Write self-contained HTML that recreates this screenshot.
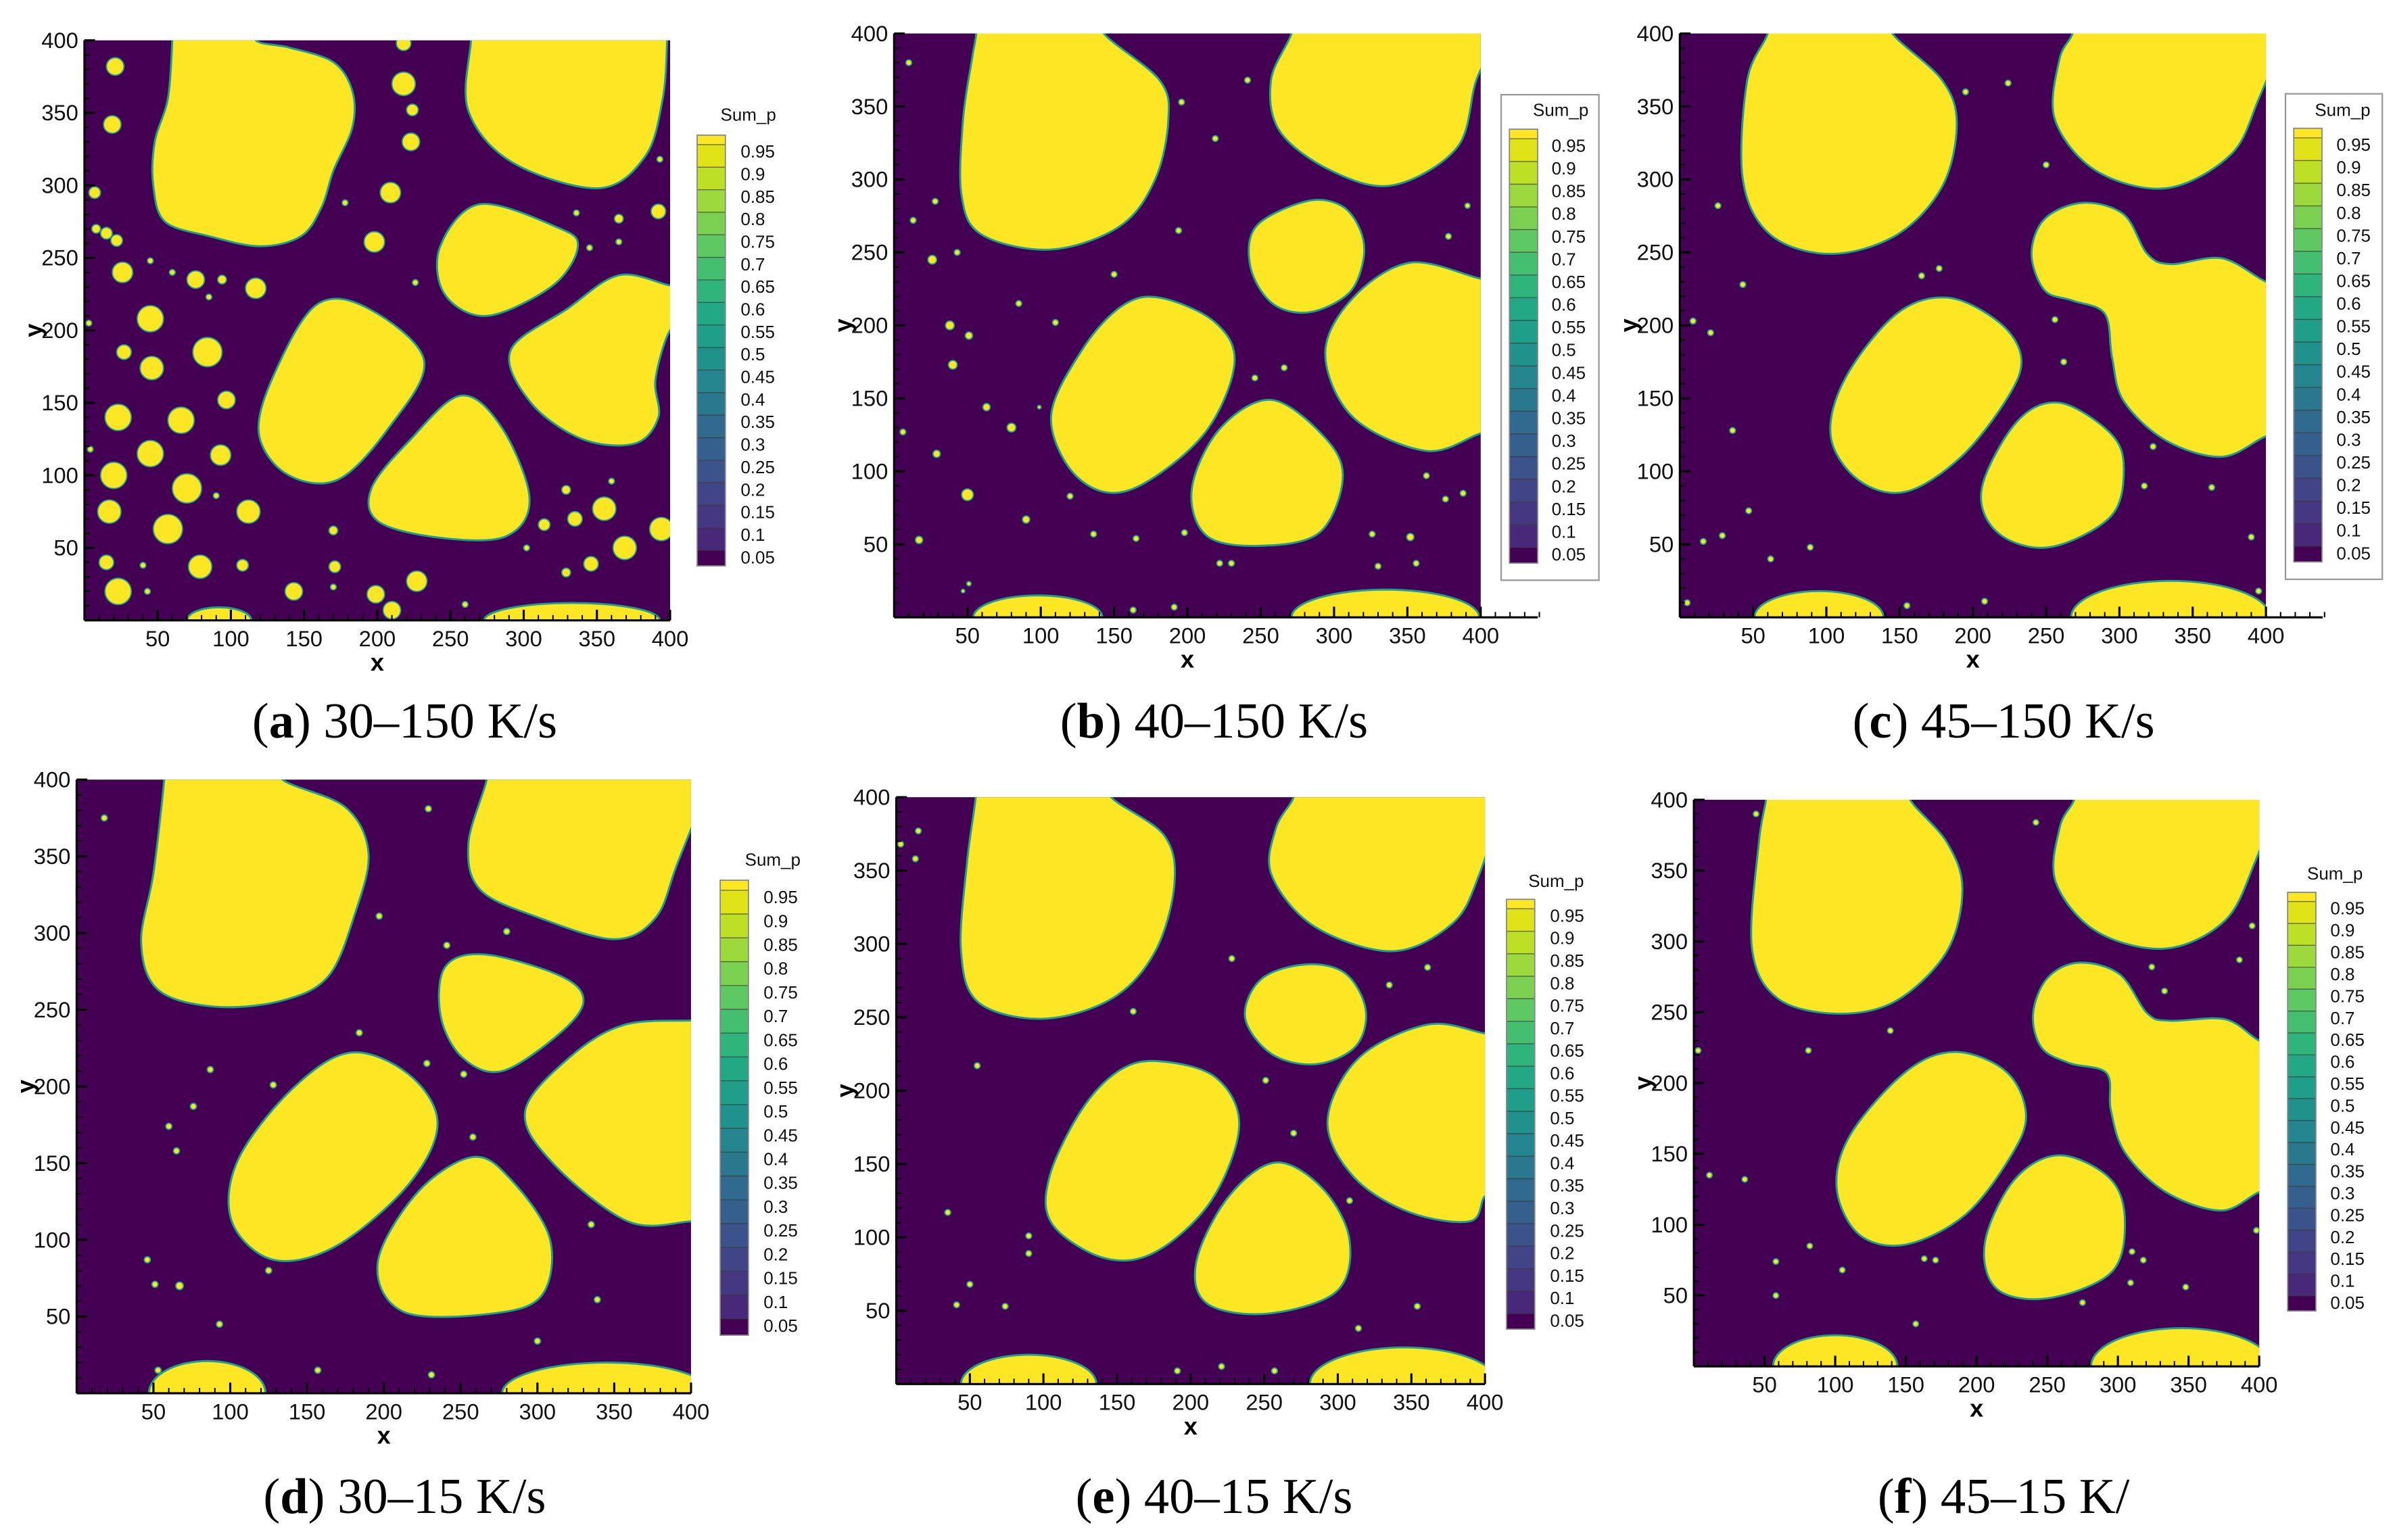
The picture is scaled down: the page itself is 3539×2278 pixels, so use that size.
<!DOCTYPE html>
<html><head><meta charset="utf-8"><style>
html,body{margin:0;padding:0;background:#fff;}
svg{display:block;}
</style></head><body>
<svg id="fig" xmlns="http://www.w3.org/2000/svg" width="3539" height="2278" viewBox="0 0 1567 1008.6" font-family="Liberation Sans, Arial, sans-serif"></svg>
<script>
// ---- data (domain units 0..400) ----
const tickValues = [50,100,150,200,250,300,350,400];
const levelLabels = ["0.95","0.9","0.85","0.8","0.75","0.7","0.65","0.6","0.55","0.5","0.45","0.4","0.35","0.3","0.25","0.2","0.15","0.1","0.05"];
const bandColors = ["#fde725","#dfe318","#bddf26","#9bd93c","#7ad151","#5ec962","#44bf70","#2fb47c","#22a884","#1f9e89","#21918c","#25858e","#2a788e","#306a8e","#355f8d","#3b528b","#414487","#453781","#482878","#440154"];
const captions = ["30–150 K/s","40–150 K/s","45–150 K/s","30–15 K/s","40–15 K/s","45–15 K/"];
const letters = ["a","b","c","d","e","f"];

const blobsA = [
 [[60,415],[117,415],[140,395],[170,385],[183,365],[183,340],[170,310],[162,285],[148,265],[120,258],[85,265],[55,275],[47,300],[48,330],[57,360]],
 [[264,415],[398,415],[395,360],[383,320],[351,298],[292,316],[262,352]],
 [[243,258],[270,287],[323,271],[337,258],[320,231],[275,210],[246,225]],
 [[412,231],[365,238],[330,215],[291,186],[305,150],[340,125],[376,122],[392,140],[390,166],[412,200]],
 [[159,218],[194,215],[232,179],[208,133],[173,97],[138,101],[119,130],[131,173]],
 [[257,155],[285,133],[304,84],[288,58],[243,57],[201,68],[196,91],[222,124]]
];
const dropsA = [[21,382,6],[19,342,6],[7,295,4],[8,270,3],[15,267,4],[22,262,4],[26,240,7],[45,248,2],[60,240,2],[76,235,6],[85,223,2],[94,235,3],[117,229,7],[45,208,9],[84,185,10],[27,185,5],[46,174,8],[97,152,6],[23,140,9],[66,138,9],[4,118,2],[45,115,9],[93,114,7],[20,100,9],[70,91,10],[90,86,2],[17,75,8],[112,75,8],[57,63,10],[170,62,3],[15,40,5],[40,38,2],[79,37,8],[108,38,4],[171,37,4],[43,20,2],[23,20,9],[143,20,6],[170,23,2],[199,18,6],[210,7,6],[227,27,7],[218,398,5],[218,370,8],[224,352,4],[223,330,6],[209,295,7],[178,288,2],[198,261,7],[226,233,2],[302,50,2],[260,11,2],[314,66,4],[329,90,3],[335,70,5],[355,77,8],[360,96,2],[369,50,8],[346,39,5],[329,33,3],[394,63,8],[393,318,2],[392,282,5],[365,277,3],[345,257,2],[336,281,2],[365,261,2],[3,205,2]];
const bottomsA = [[92,22,9],[333,60,12]];

const blobsB = [
 [[56,415],[143,415],[181,368],[187,341],[178,300],[154,268],[107,252],[60,262],[46,289],[47,341],[53,382]],
 [[271,415],[412,415],[397,368],[384,322],[340,296],[298,306],[263,333],[257,368]],
 [[281,285],[305,282],[318,265],[320,245],[310,222],[283,209],[258,215],[243,240],[247,268]],
 [[412,232],[352,243],[313,219],[294,181],[313,137],[363,114],[412,126]],
 [[181,219],[219,202],[232,173],[210,124],[160,87],[125,96],[107,137],[128,183],[155,213]],
 [[257,149],[293,124],[306,96],[290,58],[249,49],[213,56],[203,88],[222,129]]
];
const dropsB = [[10,380,2],[241,368,2],[196,353,2],[219,328,2],[28,285,2],[13,272,2],[194,265,2],[391,282,1.8],[378,261,2],[43,250,2],[26,245,3],[150,235,2],[85,215,2],[38,200,3],[110,202,2],[51,193,2.5],[40,173,3],[266,171,2],[246,164,2],[63,144,2.5],[99,144,1],[80,130,3],[6,127,2],[29,112,2.5],[50,84,4],[120,83,2],[90,67,2.5],[17,53,2.5],[136,57,2],[165,54,2],[198,58,2],[222,37,2],[230,37,2],[326,57,2],[352,55,2.5],[363,97,2],[376,81,2],[388,85,2],[330,35,2],[356,37,2],[51,23,1.5],[47,18,1],[163,5,2],[191,7,2]];
const bottomsB = [[98,44,15],[335,64,19]];

const blobsC = [
 [[60,415],[145,415],[179,368],[189,338],[179,295],[148,262],[103,249],[62,262],[43,300],[46,368]],
 [[268,415],[412,415],[395,355],[376,317],[332,294],[284,306],[256,341],[259,382]],
 [[275,284],[303,276],[319,249],[335,242],[370,246],[412,230],[412,124],[370,110],[332,121],[303,148],[295,178],[290,208],[268,217],[249,224],[240,249],[249,273]],
 [[183,219],[218,202],[233,178],[224,151],[192,110],[154,86],[122,94],[103,124],[113,164],[148,208]],
 [[259,147],[294,126],[303,102],[294,69],[252,48],[217,58],[206,88],[230,134]]
];
const dropsC = [[195,360,2],[224,366,2],[250,310,2],[26,282,2],[43,228,2],[165,234,2],[177,239,2],[9,203,2],[21,195,2],[256,204,2],[262,175,2],[36,128,2],[323,117,2],[47,73,2],[16,52,2],[29,56,2],[89,48,2],[62,40,2],[317,90,2],[363,89,2],[390,55,2],[395,18,2],[5,10,2],[155,8,2],[208,11,2]];
const bottomsC = [[95,44,18],[335,68,25]];

const blobsD = [
 [[57,415],[134,415],[175,382],[190,352],[181,312],[164,272],[134,256],[90,252],[53,263],[42,294],[50,339]],
 [[267,415],[412,415],[391,345],[377,310],[350,296],[301,310],[263,328],[255,358]],
 [[240,278],[266,286],[315,272],[330,256],[315,235],[277,210],[251,219],[237,246]],
 [[412,243],[356,240],[321,219],[292,184],[310,150],[359,112],[412,112]],
 [[178,222],[216,208],[235,176],[216,136],[169,96],[128,87],[101,112],[105,152],[140,198]],
 [[258,154],[283,139],[308,101],[303,64],[271,52],[213,53],[196,85],[222,131]]
];
const dropsD = [[18,375,2],[229,381,2],[197,311,2],[280,301,2],[241,292,2],[184,235,2],[87,211,2],[128,201,2],[228,215,2],[252,208,2],[76,187,2],[60,174,2],[65,158,2],[258,167,2],[335,110,2],[46,87,2],[51,71,2],[67,70,2.5],[125,80,2],[339,61,2],[93,45,2],[300,34,2],[53,15,2],[157,15,2],[231,12,2]];
const bottomsD = [[85,38,21],[345,68,20]];

const blobsE = [
 [[54,415],[146,415],[182,374],[189,341],[176,295],[147,263],[100,249],[56,260],[44,295],[48,355]],
 [[270,415],[412,415],[396,347],[378,314],[337,295],[284,312],[255,347],[258,379]],
 [[278,286],[305,280],[319,255],[312,230],[285,218],[255,225],[237,250],[248,276]],
 [[412,239],[361,245],[314,222],[293,179],[311,141],[349,117],[390,111],[412,128]],
 [[179,220],[217,209],[233,176],[214,125],[176,90],[141,86],[106,109],[104,141],[126,187],[152,214]],
 [[258,151],[290,133],[308,98],[299,63],[252,48],[211,55],[204,84],[226,128]]
];
const dropsE = [[15,377,2],[3,368,2],[13,358,2],[228,290,2],[361,284,2],[335,272,2],[161,254,2],[55,217,2],[251,207,2],[270,171,2],[308,125,2],[35,117,2],[90,101,2],[90,89,2],[50,68,2],[41,54,2],[74,53,2],[354,53,2],[314,38,2],[191,9,2],[221,12,2],[257,9,2]];
const bottomsE = [[90,46,20],[345,64,25]];

const blobsF = [
 [[51,415],[153,415],[179,370],[190,337],[179,293],[143,258],[101,249],[59,260],[41,296],[46,370]],
 [[269,415],[412,415],[397,356],[376,315],[334,295],[285,307],[256,342],[259,381]],
 [[272,285],[301,277],[321,249],[337,244],[376,245],[412,230],[412,123],[373,110],[334,123],[305,151],[295,181],[292,207],[266,214],[246,225],[240,249],[250,274]],
 [[185,222],[221,208],[235,178],[224,148],[192,107],[150,86],[117,93],[101,126],[111,164],[150,208]],
 [[259,149],[295,132],[305,101],[295,66],[250,48],[214,55],[206,88],[227,132]]
];
const dropsF = [[44,390,2],[242,384,2],[395,311,2],[386,287,2],[324,282,2],[333,265,2],[139,237,2],[3,223,2],[81,223,2],[11,135,2],[36,132,2],[398,96,2],[82,85,2],[58,74,2],[105,68,2],[163,76,2],[171,75,2],[310,81,2],[318,75,2],[309,59,2],[348,56,2],[58,50,2],[275,45,2],[157,30,2]];
const bottomsF = [[100,44,22],[345,64,27]];

const panelBlobs = [blobsA,blobsB,blobsC,blobsD,blobsE,blobsF];
const panelDrops = [dropsA,dropsB,dropsC,dropsD,dropsE,dropsF];
const panelBottoms = [bottomsA,bottomsB,bottomsC,bottomsD,bottomsE,bottomsF];

// ---- layout (display units) ----
const layout = [
 {x0:55.3,x1:438.8,y0:26.4,y1:406.3,cbx:456.5,cbT:88.5,cbB:370.6,lx:485,sx:490,sy:79,box:null,ext:0,cap:[265,483]},
 {x0:585.5,x1:969.6,y0:21.9,y1:404.3,cbx:988.4,cbT:84.6,cbB:368.8,lx:1016,sx:1022,sy:76,box:[983,62,64,318],ext:1007,cap:[795,483]},
 {x0:1100,x1:1483.8,y0:21.9,y1:404.3,cbx:1502,cbT:84,cbB:368,lx:1530,sx:1534,sy:76,box:[1496.6,61.4,63.4,318],ext:1521,cap:[1312,483]},
 {x0:50.2,x1:452.5,y0:510.6,y1:912.5,cbx:471.6,cbT:576.5,cbB:874.5,lx:500,sx:506,sy:567,box:null,ext:0,cap:[265,991]},
 {x0:586.9,x1:972.4,y0:522.1,y1:906.5,cbx:986.5,cbT:589,cbB:870.5,lx:1015,sx:1019,sy:581,box:null,ext:0,cap:[795,991]},
 {x0:1109.2,x1:1479.4,y0:523.8,y1:894.9,cbx:1498,cbT:584.4,cbB:858.6,lx:1526,sx:1529,sy:576,box:null,ext:0,cap:[1312,991]}
];

const NS="http://www.w3.org/2000/svg";
const svg=document.getElementById('fig');
function mk(tag,attrs,parent){const e=document.createElementNS(NS,tag);for(const k in attrs)e.setAttribute(k,attrs[k]);(parent||svg).appendChild(e);return e;}

// points beyond the frame (y>=415 top, x>=412 right) get an anchor on the frame edge
function expandEdges(pts){
 const n=pts.length,out=[];
 const off=p=>p[1]>=415||p[0]>=412;
 for(let i=0;i<n;i++){
  const p=pts[i],prev=pts[(i-1+n)%n],next=pts[(i+1)%n];
  if(off(p)){
   const edge=q=>p[1]>=415?[q[0],400]:[400,q[1]];
   if(!off(prev))out.push(edge(p));
   out.push(p);
   if(!off(next))out.push(edge(p));
  } else out.push(p);
 }
 return out;
}
function smoothPath(pts0,sx,sy){
 const pts=expandEdges(pts0);
 const n=pts.length;const P=pts.map(p=>[sx(p[0]),sy(p[1])]);
 let d="M"+P[0][0].toFixed(2)+","+P[0][1].toFixed(2);
 for(let i=0;i<n;i++){
  const p0=P[(i-1+n)%n],p1=P[i],p2=P[(i+1)%n],p3=P[(i+2)%n];
  const c1=[p1[0]+(p2[0]-p0[0])/6,p1[1]+(p2[1]-p0[1])/6];
  const c2=[p2[0]-(p3[0]-p1[0])/6,p2[1]-(p3[1]-p1[1])/6];
  d+="C"+c1[0].toFixed(2)+","+c1[1].toFixed(2)+" "+c2[0].toFixed(2)+","+c2[1].toFixed(2)+" "+p2[0].toFixed(2)+","+p2[1].toFixed(2);
 }
 return d+"Z";
}

layout.forEach((L,pi)=>{
 const sx=v=>L.x0+(v/400)*(L.x1-L.x0);
 const sy=v=>L.y1-(v/400)*(L.y1-L.y0);
 const g=mk('g',{});
 
 
 const cp=mk('clipPath',{id:'clip'+pi},g);
 mk('rect',{x:L.x0,y:L.y0,width:L.x1-L.x0,height:L.y1-L.y0},cp);
 const bg=mk('rect',{x:L.x0,y:L.y0,width:L.x1-L.x0,height:L.y1-L.y0,fill:'#440154'},g);
 
 
 const field=mk('g',{'clip-path':'url(#clip'+pi+')'},g);
 const st={fill:'#fde725',stroke:'#1f9e89','stroke-width':1.3};
 panelBlobs[pi].forEach(b=>{
  const p=mk('path',Object.assign({d:smoothPath(b,sx,sy)},st),field);
  
  
 });
 panelBottoms[pi].forEach(b=>{
  const e=mk('ellipse',Object.assign({cx:sx(b[0]),cy:sy(0),rx:sx(b[1])-sx(0),ry:sy(0)-sy(b[2])},st),field);
  
  
 });
 panelDrops[pi].forEach(d=>{
  const c=mk('circle',{cx:sx(d[0]),cy:sy(d[1]),r:Math.max(1.2,sx(d[2])-sx(0)),fill:'#fde725',stroke:'#1f9e89','stroke-width':0.8},field);
  
  
 });
 // axes
 const ax=mk('g',{stroke:'#000','stroke-width':1.4},g);
 
 
 const xEnd=L.ext?L.ext:L.x1;
 mk('line',{x1:L.x0,y1:L.y1,x2:xEnd,y2:L.y1},ax);
 mk('line',{x1:L.x0,y1:L.y0,x2:L.x0,y2:L.y1},ax);
 const maxT=L.ext?440:400;
 for(let v=10;v<=maxT;v+=10){
  const major=v%50===0&&v<=400;
  mk('line',{x1:sx(v),y1:L.y1,x2:sx(v),y2:L.y1-(major?7:3.5),'stroke-width':major?1.4:0.9},ax);
 }
 for(let v=10;v<=400;v+=10){
  const major=v%50===0;
  mk('line',{x1:L.x0,y1:sy(v),x2:L.x0+(major?7:3.5),y2:sy(v),'stroke-width':major?1.4:0.9},ax);
 }
 tickValues.forEach(v=>{
  const t=mk('text',{x:sx(v),y:L.y1+17,'font-size':14.5,'text-anchor':'middle',fill:'#111'},g);
  t.textContent=String(v);
  
  
  const u=mk('text',{x:L.x0-4,y:sy(v)+5,'font-size':14.5,'text-anchor':'end',fill:'#111'},g);
  u.textContent=String(v);
  
  
 });
 const xl=mk('text',{x:(L.x0+L.x1)/2,y:L.y1+33,'font-size':16,'font-weight':'bold','text-anchor':'middle'},g);
 xl.textContent='x';
 
 
 const yy=sy(200),yx=L.x0-33;
 const yl=mk('text',{x:yx,y:yy,'font-size':16,'font-weight':'bold','text-anchor':'middle',transform:'rotate(-90 '+yx+' '+yy+')',dy:5},g);
 yl.textContent='y';
 
 
 // colorbar
 const cb=mk('g',{},g);
 
 
 if(L.box){const bx=mk('rect',{x:L.box[0],y:L.box[1],width:L.box[2],height:L.box[3],fill:'#fff',stroke:'#999','stroke-width':1},cb);
  
  }
 const H=L.cbB-L.cbT, top=L.cbT+H*0.022, bot=L.cbB-H*0.036, step=(bot-top)/18;
 const lineY=i=>top+i*step;
 for(let k=0;k<20;k++){
  const ya=k===0?L.cbT:lineY(k-1), yb=k===19?L.cbB:lineY(k);
  const r=mk('rect',{x:L.cbx,y:ya,width:18.5,height:yb-ya,fill:bandColors[k]},cb);
  
  
 }
 for(let i=0;i<19;i++){
  mk('line',{x1:L.cbx,x2:L.cbx+18.5,y1:lineY(i),y2:lineY(i),stroke:'#333','stroke-width':0.6,'stroke-opacity':0.7},cb);
  const t=mk('text',{x:L.lx,y:lineY(i)+8.5,'font-size':11.5,fill:'#111'},cb);
  t.textContent=levelLabels[i];
  
  
 }
 mk('rect',{x:L.cbx,y:L.cbT,width:18.5,height:H,fill:'none',stroke:'#888','stroke-width':0.8},cb);
 const s=mk('text',{x:L.sx,y:L.sy,'font-size':11.5,'text-anchor':'middle',fill:'#111'},cb);
 s.textContent='Sum_p';
 
 
 // caption
 const c=mk('text',{x:L.cap[0],y:L.cap[1],'font-size':33,'text-anchor':'middle','font-family':'Liberation Serif, Times New Roman, serif',fill:'#000'},g);
 
 
 const t1=mk('tspan',{},c);t1.textContent='(';
 const t2=mk('tspan',{'font-weight':'bold'},c);t2.textContent=letters[pi];
 const t3=mk('tspan',{},c);t3.textContent=') '+captions[pi];
});
</script>
</body></html>
